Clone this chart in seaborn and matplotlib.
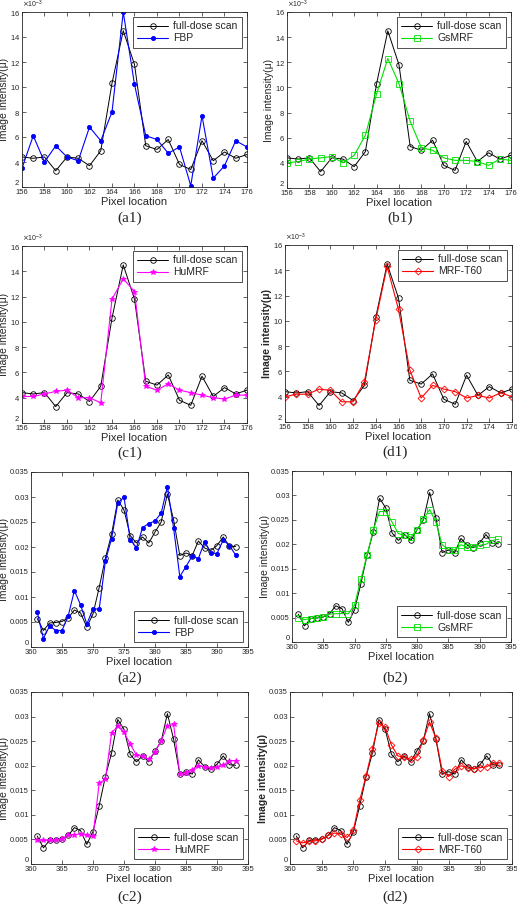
import numpy as np
import pandas as pd
import matplotlib
matplotlib.use("Agg")
import matplotlib.pyplot as plt
import matplotlib.ticker as mticker
import seaborn as sns

sns.set_style("ticks")
plt.rcParams['font.family'] = ['Liberation Sans', 'DejaVu Sans']
plt.rcParams['mathtext.fontset'] = 'dejavusans'

# ---------------- data ----------------
x1 = list(range(156, 177))
full1 = [4.4, 4.3, 4.4, 3.3, 4.4, 4.3, 3.7, 4.9, 10.3, 14.5, 11.8, 5.3, 5.0, 5.8, 3.8, 3.4, 5.7, 4.1, 4.8, 4.3, 4.6]
fbp1 = [3.5, 6.1, 4.0, 5.3, 4.4, 4.1, 6.8, 5.7, 8.0, 16.0, 10.2, 6.1, 5.8, 4.7, 5.2, 2.1, 7.7, 2.7, 3.7, 5.7, 5.2]
gs1 = [4.0, 4.1, 4.3, 4.4, 4.5, 4.0, 4.6, 6.2, 9.5, 12.3, 10.3, 7.3, 5.2, 5.0, 4.4, 4.2, 4.2, 4.1, 3.8, 4.3, 4.2]
hu1 = [4.1, 4.1, 4.3, 4.5, 4.6, 4.0, 4.0, 3.6, 11.8, 13.4, 12.4, 4.9, 4.6, 5.1, 4.6, 4.4, 4.2, 4.0, 3.9, 4.2, 4.2]
t60_1 = [4.0, 4.2, 4.2, 4.6, 4.5, 3.6, 3.6, 5.2, 10.1, 14.3, 10.9, 6.1, 3.9, 4.9, 4.6, 4.4, 3.9, 4.1, 3.9, 4.3, 4.0]
scale1 = 1e-3

x2 = list(range(361, 394))
full2 = [0.0057, 0.0033, 0.0048, 0.0049, 0.0051, 0.0058, 0.0074, 0.0068, 0.0040, 0.0066, 0.0119, 0.0178,
         0.0226, 0.0294, 0.0274, 0.0223, 0.0208, 0.0220, 0.0208, 0.0230, 0.0250, 0.0306, 0.0254, 0.0183,
         0.0188, 0.0183, 0.0212, 0.0198, 0.0193, 0.0203, 0.0220, 0.0202, 0.0201]
fbp2 = [0.0070, 0.0017, 0.0042, 0.0033, 0.0033, 0.0062, 0.0113, 0.0084, 0.0046, 0.0076, 0.0076, 0.0172,
        0.0217, 0.0288, 0.0300, 0.0215, 0.0198, 0.0239, 0.0247, 0.0252, 0.0268, 0.0321, 0.0238, 0.0141,
        0.0161, 0.0182, 0.0177, 0.0211, 0.0188, 0.0187, 0.0214, 0.0203, 0.0184]
gs2 = [0.0050, 0.0046, 0.0048, 0.0050, 0.0052, 0.0057, 0.0058, 0.0058, 0.0058, 0.0076, 0.0128, 0.0178,
       0.0230, 0.0267, 0.0267, 0.0245, 0.0222, 0.0218, 0.0215, 0.0230, 0.0252, 0.0271, 0.0245, 0.0199,
       0.0189, 0.0189, 0.0199, 0.0194, 0.0195, 0.0198, 0.0200, 0.0208, 0.0210]
hu2 = [0.0049, 0.0048, 0.0048, 0.0049, 0.0051, 0.0059, 0.0060, 0.0061, 0.0058, 0.0056, 0.0165, 0.0172,
       0.0267, 0.0280, 0.0268, 0.0244, 0.0222, 0.0219, 0.0213, 0.0228, 0.0251, 0.0281, 0.0284, 0.0183,
       0.0186, 0.0192, 0.0200, 0.0197, 0.0195, 0.0197, 0.0201, 0.0210, 0.0210]
t60_2 = [0.0047, 0.0043, 0.0046, 0.0047, 0.0050, 0.0058, 0.0063, 0.0061, 0.0054, 0.0069, 0.0130, 0.0180,
         0.0235, 0.0286, 0.0278, 0.0242, 0.0220, 0.0217, 0.0213, 0.0218, 0.0252, 0.0289, 0.0256, 0.0190,
         0.0178, 0.0193, 0.0200, 0.0195, 0.0194, 0.0196, 0.0198, 0.0205, 0.0206]

ref_label = "full-dose scan"
method_names = ["FBP", "GsMRF", "HuMRF", "MRF-T60"]
captions = ["(a1)", "(b1)", "(c1)", "(d1)", "(a2)", "(b2)", "(c2)", "(d2)"]

styles = {
    "FBP": dict(color="#0000ff", marker="o", ms=3, mfc="#0000ff", mec="#0000ff"),
    "GsMRF": dict(color="#00e000", marker="s", ms=4, mfc="none", mec="#00e000"),
    "HuMRF": dict(color="#ff00ff", marker="*", ms=4, mfc="#ff00ff", mec="#ff00ff"),
    "MRF-T60": dict(color="#ff0000", marker="D", ms=3.5, mfc="none", mec="#ff0000"),
}

W, H = 517, 905
fig = plt.figure(figsize=(W / 100, H / 100), dpi=100)

def ax_at(l, t, r, b):
    return fig.add_axes([l / W, 1 - b / H, (r - l) / W, (b - t) / H])

# pixel boxes (left, top, right, bottom)
boxes = [
    (22, 12, 247, 187), (287, 12, 511, 188),
    (22, 246, 247, 423), (285, 245, 512, 422),
    (31, 472, 248, 647), (292, 471, 511, 642),
    (31, 692, 248, 864), (290, 692, 512, 864),
]
cap_pos = [(130, 218), (400, 218), (130, 453), (395, 452),
           (130, 678), (395, 678), (130, 897), (395, 897)]

row_data = [
    (x1, full1, [fbp1, gs1, hu1, t60_1], scale1),
    (x2, full2, [fbp2, gs2, hu2, t60_2], 1.0),
]

for i in range(8):
    row = i // 4
    k = i % 4
    xs, fullv, meths, sc = row_data[row]
    name = method_names[k]
    ax = ax_at(*boxes[i])
    df = pd.DataFrame({"x": xs,
                       "full": np.array(fullv) * sc,
                       "m": np.array(meths[k]) * sc})
    sns.lineplot(data=df, x="x", y="full", ax=ax, color="black", lw=0.7,
                 marker="o", markersize=4, markerfacecolor="none",
                 markeredgecolor="black", markeredgewidth=0.6, label=ref_label)
    st = styles[name]
    sns.lineplot(data=df, x="x", y="m", ax=ax, color=st["color"], lw=0.8,
                 marker=st["marker"], markersize=st["ms"], markerfacecolor=st["mfc"],
                 markeredgecolor=st["mec"], markeredgewidth=0.6, label=name)
    if row == 0:
        ax.set_xlim(156, 176)
        ax.set_xticks(range(156, 177, 2))
        ax.set_ylim(0.002, 0.016)
        ax.set_yticks(np.arange(0.002, 0.0161, 0.002))
        fmt = mticker.ScalarFormatter(useMathText=True)
        fmt.set_powerlimits((-3, -3))
        ax.yaxis.set_major_formatter(fmt)
        ax.yaxis.get_offset_text().set_fontsize(5)
        leg_loc = "upper right"
    else:
        ax.set_xlim(360, 395)
        ax.set_xticks(range(360, 396, 5))
        ax.set_ylim(0, 0.035)
        ax.set_yticks(np.arange(0, 0.0351, 0.005))
        ax.yaxis.set_major_formatter(mticker.FuncFormatter(lambda v, p: "%g" % round(v, 4)))
        leg_loc = "lower right"
    bold = (k == 3)
    ax.set_xlabel("Pixel location", fontsize=8, labelpad=1)
    ax.set_ylabel("Image intensity(\u03bc)", fontsize=7.5, labelpad=0.5,
                  fontweight="bold" if bold else "normal")
    ax.tick_params(direction="in", labelsize=5.5, length=3, width=0.5,
                   top=True, right=True, pad=1.5)
    # lift the lowest y tick label a little so it clears the first x label
    ax.yaxis.get_major_ticks()[0].label1.set_va("bottom")
    for s in ax.spines.values():
        s.set_linewidth(0.6)
    leg = ax.legend(loc=leg_loc, fontsize=7.5, frameon=True, fancybox=False,
                    edgecolor="black", handlelength=3.0, borderpad=0.4,
                    labelspacing=0.2, handletextpad=0.5, borderaxespad=0.5)
    leg.get_frame().set_linewidth(0.6)
    cx, cy = cap_pos[i]
    fig.text(cx / W, 1 - cy / H, captions[i], ha="center", va="center",
             fontsize=11, family=["Liberation Serif", "DejaVu Serif"])

fig.savefig("out.png", dpi=100)
